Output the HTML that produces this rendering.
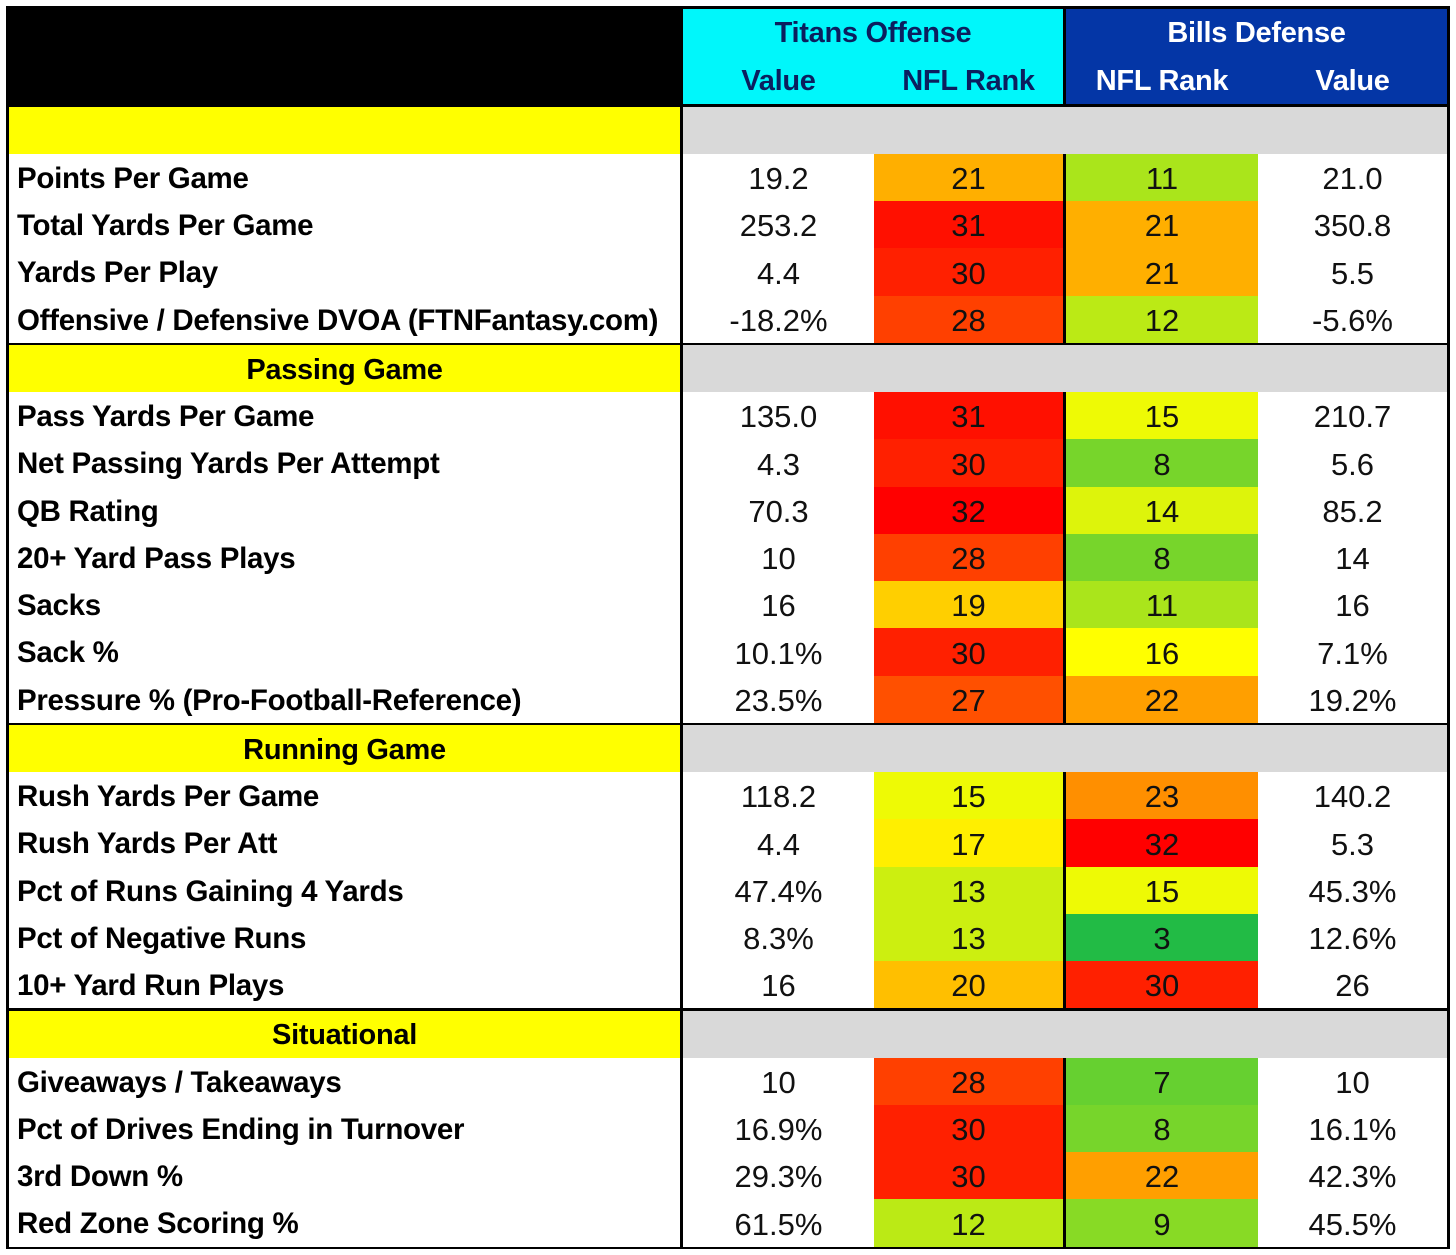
<!DOCTYPE html>
<html><head><meta charset="utf-8">
<style>
html,body{margin:0;padding:0;background:#fff;}
#t{position:relative;width:1456px;height:1255px;overflow:hidden;font-family:"Liberation Sans",sans-serif;}
.a{position:absolute;box-sizing:border-box;}
.c{display:flex;align-items:center;justify-content:center;}
.lbl{font-weight:bold;font-size:29.5px;letter-spacing:-0.3px;padding-left:8px;padding-top:2px;display:flex;align-items:center;white-space:nowrap;color:#000;}
.num{font-size:31px;color:#111;padding-top:3px;}
.hd{font-weight:bold;font-size:29px;letter-spacing:-0.3px;}
</style></head><body>
<div id="t">
  <div class="a" style="left:6px;top:6px;width:1444px;height:1243px;background:#000"></div>
  <div class="a" style="left:683px;top:9px;width:380px;height:95px;background:#00f7fb"></div>
  <div class="a" style="left:1066px;top:9px;width:381px;height:95px;background:#0436a6"></div>
  <div class="a c hd" style="left:683px;top:12px;width:380px;height:42px;color:#0b1f5e">Titans Offense</div>
  <div class="a c hd" style="left:683px;top:60px;width:191px;height:42px;color:#0b1f5e">Value</div>
  <div class="a c hd" style="left:874px;top:60px;width:189px;height:42px;color:#0b1f5e">NFL Rank</div>
  <div class="a c hd" style="left:1066px;top:12px;width:381px;height:42px;color:#fff">Bills Defense</div>
  <div class="a c hd" style="left:1066px;top:60px;width:192px;height:42px;color:#fff">NFL Rank</div>
  <div class="a c hd" style="left:1258px;top:60px;width:189px;height:42px;color:#fff">Value</div>
</div>
<script>
const sections = ["", "Passing Game", "Running Game", "Situational"];
const sectionSizes = [4, 7, 5, 4];
const labels = ["Points Per Game","Total Yards Per Game","Yards Per Play","Offensive / Defensive DVOA (FTNFantasy.com)",
"Pass Yards Per Game","Net Passing Yards Per Attempt","QB Rating","20+ Yard Pass Plays","Sacks","Sack %","Pressure % (Pro-Football-Reference)",
"Rush Yards Per Game","Rush Yards Per Att","Pct of Runs Gaining 4 Yards","Pct of Negative Runs","10+ Yard Run Plays",
"Giveaways / Takeaways","Pct of Drives Ending in Turnover","3rd Down %","Red Zone Scoring %"];
const offValues = ["19.2","253.2","4.4","-18.2%","135.0","4.3","70.3","10","16","10.1%","23.5%","118.2","4.4","47.4%","8.3%","16","10","16.9%","29.3%","61.5%"];
const offRanks = [21,31,30,28,31,30,32,28,19,30,27,15,17,13,13,20,28,30,30,12];
const defRanks = [11,21,21,12,15,8,14,8,11,16,22,23,32,15,3,30,7,8,22,9];
const defValues = ["21.0","350.8","5.5","-5.6%","210.7","5.6","85.2","14","16","7.1%","19.2%","140.2","5.3","45.3%","12.6%","26","10","16.1%","42.3%","45.5%"];

function rankColor(r){
  let c;
  if(r<=16){const t=(r-1)/15;c=[0+255*t,176+79*t,80-80*t];}
  else{const t=(r-16)/16;c=[255,255-255*t,0];}
  return "rgb("+c.map(Math.round).join(",")+")";
}
const T=document.getElementById('t');
function box(x,y,w,h,bg,cls,txt){
  const d=document.createElement('div');
  d.className='a '+(cls||'');
  d.style.left=x+'px';d.style.top=y+'px';d.style.width=w+'px';d.style.height=h+'px';
  if(bg)d.style.background=bg;
  if(txt!==undefined)d.textContent=txt;
  T.appendChild(d);return d;
}
const SEC_H=47, ROW_H=47.2, GAP=2.5;
let y=107, idx=0;
sections.forEach((s,si)=>{
  if(si>0) y+=GAP;
  const sy=box(9,y,671,SEC_H,'#ffff00','c hd',s);
  sy.style.fontSize='29px';
  sy.style.paddingTop='3px';
  
  
  const g=box(683,y,764,SEC_H,'#d9d9d9');
  
  
  y+=SEC_H;
  for(let k=0;k<sectionSizes[si];k++){
    const i=idx++;
    const yy=Math.round(y), hh=Math.round(y+ROW_H)-yy;
    const l=box(9,yy,671,hh,'#fff','lbl',labels[i]);
    
    
    const v1=box(683,yy,191,hh,'#fff','c num',offValues[i]);
    
    
    const r1=box(874,yy,189,hh,rankColor(offRanks[i]),'c num',offRanks[i]);
    
    
    const r2=box(1066,yy,192,hh,rankColor(defRanks[i]),'c num',defRanks[i]);
    
    
    const v2=box(1258,yy,189,hh,'#fff','c num',defValues[i]);
    
    
    y+=ROW_H;
  }
});
</script>
</body></html>
